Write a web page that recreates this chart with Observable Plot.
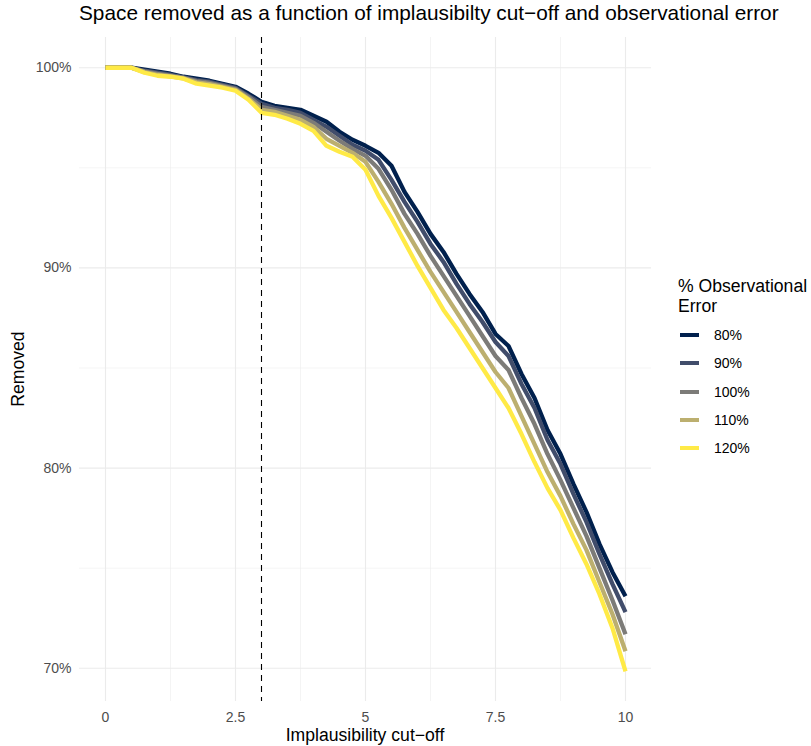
<!DOCTYPE html>
<html>
<head>
<meta charset="utf-8">
<script src="https://cdn.jsdelivr.net/npm/d3@7"></script>
<script src="https://cdn.jsdelivr.net/npm/@observablehq/plot@0.6"></script>
<style>
  html, body { margin: 0; padding: 0; background: #ffffff; }
  #chart { position: relative; width: 811px; height: 746px; font-family: "Liberation Sans", Arial, Helvetica, sans-serif; }
  #chart .overlay { position: absolute; white-space: nowrap; color: #000; }
  #title { left: 79px; top: 3px; font-size: 20.8px; line-height: 1; }
  #xtitle { left: 79px; width: 572px; top: 727px; font-size: 17.6px; line-height: 1; text-align: center; }
  #ytitle { left: 19px; top: 369px; font-size: 17.6px; line-height: 1; transform: translate(-50%, -50%) rotate(-90deg); }
  #legend { left: 678px; top: 276px; }
  #legend .ltitle { font-size: 17.6px; line-height: 20px; }
  #legend .key { position: absolute; left: 2px; width: 19px; height: 4px; }
  #legend .lab { position: absolute; left: 36px; font-size: 14px; line-height: 1; transform: translateY(-50%); }
</style>
</head>
<body>
<div id="chart">
  <div class="overlay" id="title">Space removed as a function of implausibilty cut−off and observational error</div>
  <div class="overlay" id="ytitle">Removed</div>
  <div class="overlay" id="xtitle">Implausibility cut−off</div>
  <div class="overlay" id="legend"><div class="ltitle">% Observational<br>Error</div></div>
</div>
<script>
// Implausibility cut-off values shared by every series
const cutoff = [0, 0.25, 0.5, 0.75, 1, 1.25, 1.5, 1.75, 2, 2.25, 2.5, 2.75, 3, 3.25, 3.5, 3.75, 4, 4.25, 4.5, 4.75,
  5, 5.25, 5.5, 5.75, 6, 6.25, 6.5, 6.75, 7, 7.25, 7.5, 7.75, 8, 8.25, 8.5, 8.75, 9, 9.25, 9.5, 9.75, 10];

// Share of the space removed (%) at each cut-off, one array per observational error level
const removed80 = [100, 100, 100, 99.9, 99.8, 99.7, 99.55, 99.45, 99.35, 99.2, 99.05, 98.7, 98.3, 98.1, 98.0, 97.9, 97.6, 97.3, 96.8, 96.4,
  96.1, 95.75, 95.1, 93.8, 92.8, 91.7, 90.8, 89.7, 88.7, 87.8, 86.7, 86.1, 84.7, 83.5, 81.9, 80.7, 79.2, 77.8, 76.2, 74.8, 73.6];
const removed90 = [100, 100, 100, 99.85, 99.75, 99.65, 99.52, 99.38, 99.3, 99.15, 99.0, 98.6, 98.2, 98.0, 97.9, 97.75, 97.4, 97.05, 96.6, 96.15,
  95.85, 95.4, 94.4, 93.3, 92.3, 91.2, 90.3, 89.2, 88.2, 87.3, 86.3, 85.6, 84.2, 83.0, 81.4, 80.2, 78.7, 77.3, 75.7, 74.2, 72.8];
const removed100 = [100, 100, 100, 99.82, 99.7, 99.6, 99.5, 99.33, 99.25, 99.1, 98.95, 98.55, 98.05, 97.9, 97.75, 97.6, 97.25, 96.8, 96.35, 95.95,
  95.6, 94.95, 93.9, 92.7, 91.7, 90.6, 89.6, 88.6, 87.6, 86.6, 85.6, 84.9, 83.5, 82.2, 80.7, 79.4, 78.0, 76.6, 75.0, 73.4, 71.7];
const removed110 = [100, 100, 100, 99.78, 99.65, 99.57, 99.47, 99.27, 99.18, 99.05, 98.9, 98.45, 97.9, 97.8, 97.6, 97.4, 97.05, 96.45, 96.1, 95.75,
  95.3, 94.3, 93.2, 92.0, 90.9, 89.8, 88.8, 87.8, 86.8, 85.8, 84.8, 84.0, 82.6, 81.2, 79.8, 78.6, 77.2, 75.9, 74.3, 72.7, 70.85];
const removed120 = [100, 100, 100, 99.75, 99.6, 99.55, 99.45, 99.2, 99.1, 99.0, 98.85, 98.4, 97.75, 97.65, 97.45, 97.2, 96.85, 96.1, 95.8, 95.55,
  94.9, 93.6, 92.5, 91.3, 90.1, 89.0, 87.9, 87.0, 86.0, 85.0, 84.0, 83.0, 81.7, 80.3, 79.0, 77.9, 76.5, 75.2, 73.7, 72.0, 69.85];

const errorLevels = ["80%", "90%", "100%", "110%", "120%"];
const palette = ["#00204D", "#414D6B", "#7C7B78", "#BCAF6F", "#FFEA46"];
const seriesValues = [removed80, removed90, removed100, removed110, removed120];

const xTicks = [0, 2.5, 5, 7.5, 10];
const xMinor = [1.25, 3.75, 6.25, 8.75];
const yTicks = [70, 80, 90, 100];
const yMinor = [75, 85, 95];
const threshold = 3;

// Long table: one row per (error level, cut-off)
const rows = errorLevels.flatMap((level, i) =>
  cutoff.map((c, j) => ({error: level, cutoff: c, removed: seriesValues[i][j]})));

const gridColor = "#EBEBEB";

const chart = Plot.plot({
  width: 811,
  height: 746,
  marginLeft: 79,
  marginRight: 160,
  marginTop: 37,
  marginBottom: 45,
  x: {domain: [-0.5, 10.5]},
  y: {domain: [68.34, 101.51]},
  color: {domain: errorLevels, range: palette},
  style: {fontFamily: "'Liberation Sans', Arial, Helvetica, sans-serif", fontSize: "14px", background: "#ffffff", color: "#4D4D4D"},
  marks: [
    Plot.ruleX(xMinor, {stroke: gridColor, strokeWidth: 0.55}),
    Plot.ruleY(yMinor, {stroke: gridColor, strokeWidth: 0.55}),
    Plot.ruleX(xTicks, {stroke: gridColor, strokeWidth: 1.1}),
    Plot.ruleY(yTicks, {stroke: gridColor, strokeWidth: 1.1}),
    Plot.axisX({ticks: xTicks, tickSize: 0, tickPadding: 11, tickFormat: d => `${d}`, label: null, fill: "#4D4D4D"}),
    Plot.axisY({ticks: yTicks, tickSize: 0, tickPadding: 8, tickFormat: d => `${d}%`, label: null, fill: "#4D4D4D"}),
    Plot.line(rows, {x: "cutoff", y: "removed", z: "error", stroke: "error", strokeWidth: 4.3,
      strokeLinejoin: "round", strokeLinecap: "butt"}),
    Plot.ruleX([threshold], {stroke: "#000000", strokeWidth: 1.1, strokeDasharray: "6,5"})
  ]
});

const root = document.getElementById("chart");
chart.style.position = "absolute";
chart.style.left = "0";
chart.style.top = "0";
root.insertBefore(chart, root.firstChild);

// Legend keys drawn from the colour scale
const legend = document.getElementById("legend");
const colorScale = chart.scale("color");
errorLevels.forEach((level, i) => {
  const yc = 59 + i * 28.3;
  const key = document.createElement("div");
  key.className = "key";
  key.style.top = (yc - 2) + "px";
  key.style.background = colorScale.apply(level);
  legend.appendChild(key);
  const lab = document.createElement("div");
  lab.className = "lab";
  lab.style.top = yc + "px";
  lab.textContent = level;
  legend.appendChild(lab);
});
</script>
</body>
</html>
